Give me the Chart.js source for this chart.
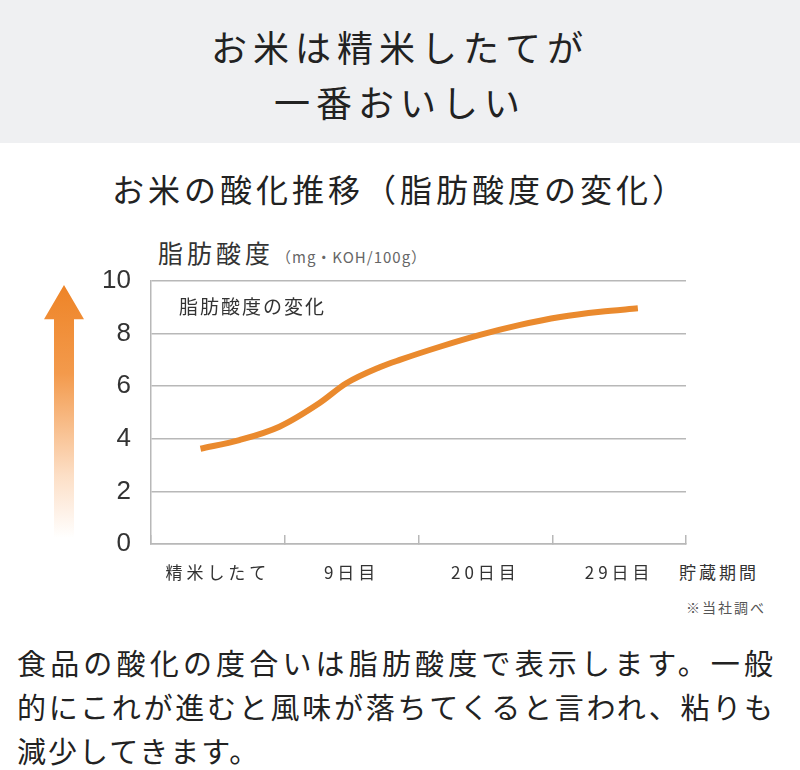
<!DOCTYPE html>
<html lang="ja">
<head>
<meta charset="utf-8">
<script src="https://cdn.jsdelivr.net/npm/chart.js@4"></script>
<style>
  html, body { margin: 0; padding: 0; width: 800px; height: 770px; background: #fff; overflow: hidden; }
  body { position: relative; font-family: "Noto Sans CJK JP", "Noto Sans", sans-serif; color: #222; }
  .banner { position: absolute; left: 0; top: 0; width: 800px; height: 143px; background: #eff0f2; }
  .banner div { position: absolute; left: 0; width: 800px; text-align: center; font-size: 36px; letter-spacing: 6px; line-height: 1; }
  .sub { position: absolute; left: 0; top: 172px; width: 800px; text-align: center; font-size: 32px; letter-spacing: 4px; line-height: 1; }
  .abs { position: absolute; line-height: 1; white-space: nowrap; }
  .arrow { position: absolute; left: 44px; top: 285px; width: 40px; height: 253px;
    background: linear-gradient(to bottom, #ee8427 0%, #f39a4c 35%, rgba(250,190,140,0.5) 75%, rgba(255,255,255,0) 100%);
    clip-path: polygon(50% 0, 100% 13.5%, 75% 13.5%, 75% 100%, 25% 100%, 25% 13.5%, 0 13.5%); }
  .para { position: absolute; left: 17px; top: 640px; font-size: 29px; line-height: 44px; color: #222; }
  .para div { white-space: nowrap; letter-spacing: 2px; }
  .para .j { width: 756px; text-align: justify; text-align-last: justify; white-space: normal; letter-spacing: 0; }
  canvas { position: absolute; left: 0; top: 0; }
</style>
</head>
<body>
<div class="banner">
  <div style="top:28px">お米は精米したてが</div>
  <div style="top:83px">一番おいしい</div>
</div>
<div class="sub">お米の酸化推移（脂肪酸度の変化）</div>
<div class="arrow"></div>
<div class="abs" style="left:158px; top:240px; font-size:25px; letter-spacing:4px; color:#333;">脂肪酸度<span style="font-size:15px; letter-spacing:1px; color:#666; margin-left:2px;">（mg・KOH/100g）</span></div>
<div class="abs" style="left:679px; top:563px; font-size:17px; letter-spacing:3px; color:#333;">貯蔵期間</div>
<div class="abs" style="left:686px; top:600px; font-size:14px; letter-spacing:2px; color:#555;">※当社調べ</div>
<div class="para">
  <div class="j">食品の酸化の度合いは脂肪酸度で表示します。一般</div>
  <div class="j">的にこれが進むと風味が落ちてくると言われ、粘りも</div>
  <div>減少してきます。</div>
</div>
<div style="position:absolute; left:0; top:0; width:800px; height:770px;">
  <canvas id="myChart"></canvas>
</div>
<div class="abs" style="left:179px; top:296px; font-size:19px; letter-spacing:2px; color:#333;">脂肪酸度の変化</div>
<script>
const categories = ['精米したて', '9日目', '20日目', '29日目'];
const yTicks = [0, 2, 4, 6, 8, 10];
// position along the storage period, in category slots (0 = left edge, 4 = right edge)
const storagePos = [0.37, 0.66, 0.96, 1.26, 1.46, 1.71, 1.86, 2.16, 2.46, 2.76, 3.06, 3.36, 3.64];
const acidity = [3.62, 3.95, 4.46, 5.36, 6.11, 6.72, 7.0, 7.5, 7.95, 8.33, 8.63, 8.83, 8.96];

const gridGray = '#b8b8b8';

const ctx = document.getElementById('myChart');

// spread the x axis labels a little, like the original artwork
const spacing = {
  id: 'spacing',
  afterLayout(chart) {
    const s = chart.scales.x;
    if (s._spaced) return;
    const orig = s.drawLabels.bind(s);
    s.drawLabels = (area) => {
      chart.ctx.letterSpacing = '4px';
      orig(area);
      chart.ctx.letterSpacing = '0px';
    };
    s._spaced = true;
  }
};

new Chart(ctx, {
  type: 'line',
  data: {
    datasets: [{
      label: '脂肪酸度の変化',
      data: storagePos.map((x, i) => ({ x: x, y: acidity[i] })),
      xAxisID: 'x2',
      borderColor: '#ea8a2e',
      borderWidth: 6,
      borderCapStyle: 'butt',
      pointRadius: 0,
      tension: 0.4,
      cubicInterpolationMode: 'monotone',
      fill: false
    }]
  },
  options: {
    responsive: true,
    maintainAspectRatio: false,
    animation: false,
    layout: { padding: { top: 281, right: 114, bottom: 176, left: 0 } },
    plugins: { legend: { display: false }, tooltip: { enabled: false } },
    scales: {
      x: {
        type: 'category',
        labels: categories,
        position: 'bottom',
        offset: true,
        grid: {
          offset: true,
          drawOnChartArea: false,
          drawTicks: true,
          tickLength: -9,
          color: gridGray,
          lineWidth: 1.5
        },
        border: { display: true, color: gridGray, width: 1.5 },
        ticks: {
          padding: 27,
          color: '#333',
          font: { family: '"Noto Sans CJK JP", sans-serif', size: 17 },
          maxRotation: 0
        },
        afterFit: (scale) => { scale.height = 50; }
      },
      x2: {
        type: 'linear',
        display: false,
        min: 0,
        max: 4
      },
      y: {
        min: 0,
        max: 10,
        afterBuildTicks: (scale) => { scale.ticks = yTicks.map(v => ({ value: v })); },
        grid: { color: gridGray, lineWidth: 1.5, drawTicks: false },
        border: { display: true, color: gridGray, width: 1.5 },
        ticks: {
          padding: 20,
          color: '#333',
          font: { family: '"Liberation Sans", sans-serif', size: 26 }
        },
        afterFit: (scale) => { scale.width = 151; }
      }
    }
  },
  plugins: [spacing]
});
</script>
</body>
</html>
